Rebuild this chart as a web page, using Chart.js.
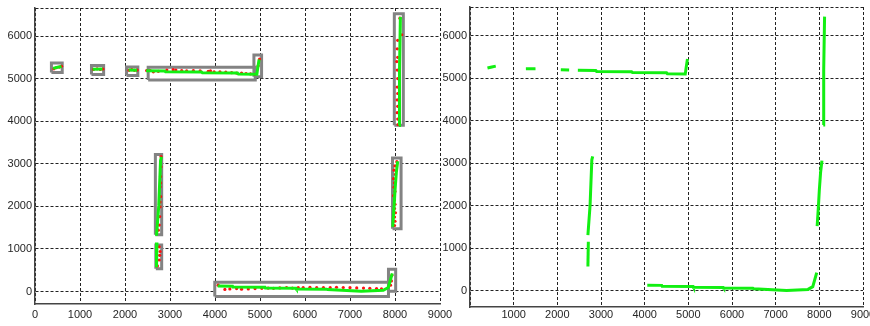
<!DOCTYPE html>
<html>
<head>
<meta charset="utf-8">
<script src="https://cdn.jsdelivr.net/npm/chart.js@4.4.0/dist/chart.umd.min.js"></script>
<style>
  html, body { margin: 0; padding: 0; background: #fff; width: 870px; height: 326px; overflow: hidden; }
  canvas { position: absolute; top: 0; }
  #chart-left { left: 0; }
  #chart-right { left: 440px; }
</style>
</head>
<body>
<canvas id="chart-left" width="458" height="326"></canvas>
<canvas id="chart-right" width="440" height="326"></canvas>
<script>
// tick values
const xTicks = [0, 1000, 2000, 3000, 4000, 5000, 6000, 7000, 8000, 9000];
const yTicks = [0, 1000, 2000, 3000, 4000, 5000, 6000];

// green track segments [x, y]
const segA = [[400, 5240], [500, 5265], [590, 5285]];
const segB = [[1280, 5220], [1500, 5225]];
const segC = [[2080, 5200], [2270, 5195]];
const segD = [[2470, 5185], [2880, 5180], [2900, 5160], [3700, 5155], [3720, 5135], [4500, 5130], [4520, 5105], [4930, 5100], [4950, 5250], [4980, 5450]];
const segE = [[2700, 1310], [2750, 2010], [2790, 3080], [2810, 3160]];
const segF = [[2710, 1150], [2700, 570]];
const segG = [[4060, 127], [4390, 125], [4400, 104], [5110, 100], [5120, 80], [5800, 75], [5810, 60], [6480, 55], [6500, 45], [7250, 5], [7740, 30], [7850, 95], [7940, 425]];
const segH = [[7950, 1520], [7980, 2000], [8000, 2370], [8030, 2800], [8060, 3060]];
const segI = [[8090, 3900], [8100, 5200], [8120, 6450]];

// red measurement points (left panel)
const redPts = [
  [420, 5230], [470, 5255], [540, 5270], [590, 5290],
  [1300, 5215], [1380, 5230], [1450, 5215], [1510, 5225],
  [2090, 5195], [2150, 5210], [2210, 5195], [2270, 5200],
  [2480, 5190], [2560, 5190], [2630, 5160], [2740, 5170], [2930, 5200], [3070, 5210], [3130, 5200], [3260, 5190],
  [3370, 5180], [3520, 5190], [3670, 5180], [3850, 5170], [3900, 5180], [3980, 5160], [4110, 5160], [4240, 5150],
  [4370, 5140], [4480, 5130], [4590, 5130], [4690, 5120], [4790, 5110], [4880, 5100], [4960, 5300], [4990, 5460],
  [2800, 3170], [2800, 2930], [2790, 2700], [2780, 2460], [2790, 2230], [2780, 1990], [2770, 1760], [2760, 1560],
  [2740, 1440], [2780, 2100], [2790, 2550],
  [2760, 1050], [2780, 940], [2770, 850], [2760, 740], [2720, 600],
  [4070, 150], [4220, 50], [4330, 60], [4480, 70], [4590, 55], [4740, 60], [4890, 70], [5040, 75], [5180, 80],
  [5300, 75], [5440, 85], [5590, 95], [5720, 80], [5850, 90], [5960, 95], [6110, 100], [6260, 90], [6410, 95],
  [6560, 90], [6700, 100], [6850, 95], [7000, 90], [7150, 85], [7300, 80], [7440, 75], [7590, 70], [7700, 60],
  [7900, 150], [7920, 250], [7930, 380],
  [8040, 3050], [8000, 2950], [7980, 2850], [8010, 2750], [7970, 2650], [7990, 2550], [7980, 2450], [8000, 2350],
  [7970, 2250], [7990, 2150], [8000, 2050], [7990, 1950], [8010, 1850], [7990, 1750], [8000, 1650], [7990, 1550],
  [8110, 6420], [8150, 6030], [8060, 5900], [8050, 5700], [8060, 5500], [8040, 5400], [8050, 5200], [8060, 5000],
  [8050, 4800], [8060, 4650], [8050, 4500], [8060, 4350], [8050, 4200], [8060, 4050], [8070, 3920]
];

// detection boxes [xMin, xMax, yMin, yMax] (left panel)
const boxes = [
  [365, 605, 5145, 5365],
  [1255, 1525, 5095, 5305],
  [2035, 2285, 5075, 5275],
  [2515, 4895, 4965, 5265],
  [4865, 5035, 5045, 5555],
  [2675, 2815, 1335, 3215],
  [2685, 2815, 535, 1095],
  [3995, 7855, -115, 215],
  [7855, 8015, 5, 525],
  [7945, 8135, 1475, 3135],
  [7985, 8185, 3905, 6525]
];

const segments = [segA, segB, segC, segD, segE, segF, segG, segH, segI];

Chart.defaults.font.family = '"Liberation Sans Narrow", "Arial Narrow", "Liberation Sans", Arial, sans-serif';
Chart.defaults.font.size = 11;
Chart.defaults.color = '#262626';

const toPts = arr => arr.map(p => ({ x: p[0], y: p[1] }));
const boxPts = b => toPts([[b[0], b[2]], [b[1], b[2]], [b[1], b[3]], [b[0], b[3]], [b[0], b[2]]]);

function greenSets() {
  return segments.map(s => ({
    data: toPts(s),
    showLine: true,
    borderColor: '#12ef12',
    borderWidth: 3,
    pointRadius: 0,
    fill: false,
    order: 1
  }));
}

function makeScales(yMin, yMax, yWidth, xHeight, xPad, hideZero) {
  return {
    x: {
      type: 'linear',
      min: 0,
      max: 9000,
      afterBuildTicks: s => { s.ticks = xTicks.map(v => ({ value: v })); },
      afterFit: s => { s.height = xHeight; },
      ticks: {
        padding: xPad,
        maxRotation: 0,
        autoSkip: false,
        callback: v => (hideZero && v === 0) ? '' : String(v)
      },
      grid: { color: '#222', lineWidth: 1, drawTicks: false },
      border: { color: '#444', width: 1.5, dash: [3, 2] }
    },
    y: {
      type: 'linear',
      min: yMin,
      max: yMax,
      afterBuildTicks: s => { s.ticks = yTicks.concat([yMax]).map(v => ({ value: v })); },
      afterFit: s => { s.width = yWidth; },
      ticks: {
        padding: 0,
        autoSkip: false,
        callback: v => yTicks.includes(v) ? String(v) : ''
      },
      grid: { color: '#222', lineWidth: 1, drawTicks: true, tickLength: 3, tickColor: 'rgba(0,0,0,0)' },
      border: { color: '#444', width: 1.5, dash: [3, 2] }
    }
  };
}

// left panel: tracks, points and boxes
const leftSets = greenSets();
leftSets.push({
  data: toPts(redPts),
  showLine: false,
  pointRadius: 1.6,
  pointBorderWidth: 0,
  backgroundColor: '#ff1010',
  order: 2
});
boxes.forEach(b => {
  leftSets.push({
    data: boxPts(b),
    showLine: true,
    borderColor: '#838383',
    borderWidth: 3,
    borderJoinStyle: 'miter',
    pointRadius: 0,
    fill: false,
    order: 3
  });
  leftSets.push({
    data: boxPts(b),
    showLine: true,
    borderWidth: 0,
    borderColor: 'rgba(0,0,0,0)',
    backgroundColor: '#ffffff',
    pointRadius: 0,
    fill: 'shape',
    order: 4
  });
});

new Chart(document.getElementById('chart-left'), {
  type: 'scatter',
  data: { datasets: leftSets },
  options: {
    responsive: false,
    animation: false,
    events: [],
    layout: { padding: { top: 8, right: 18, left: 0, bottom: 0 } },
    scales: makeScales(-293, 6658, 35, 22, 4, false),
    plugins: { legend: { display: false }, tooltip: { enabled: false } }
  }
});

// right panel: tracks only
new Chart(document.getElementById('chart-right'), {
  type: 'scatter',
  data: { datasets: greenSets() },
  options: {
    responsive: false,
    animation: false,
    events: [],
    layout: { padding: { top: 7, right: 17, left: 0, bottom: 0 } },
    scales: makeScales(-384, 6676, 30, 19, 1, true),
    plugins: { legend: { display: false }, tooltip: { enabled: false } }
  }
});
</script>
</body>
</html>
